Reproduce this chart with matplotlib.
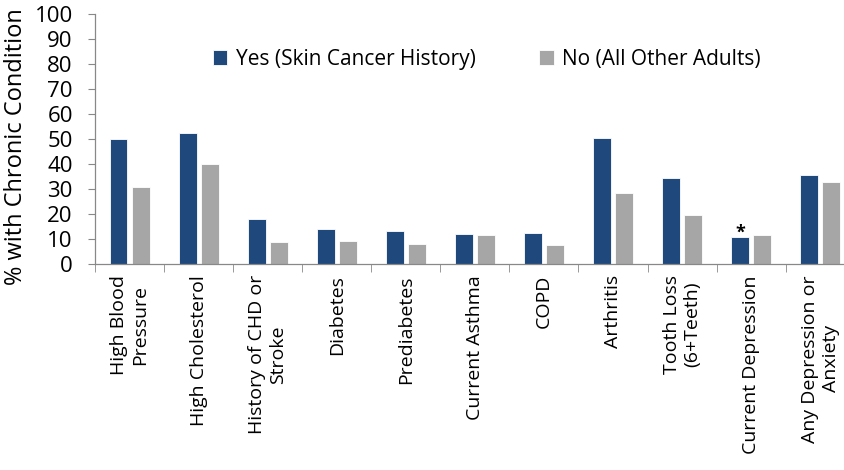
import matplotlib
matplotlib.use("Agg")
import matplotlib.pyplot as plt
import numpy as np

categories = ["High Blood\nPressure", "High Cholesterol", "History of CHD or\nStroke",
              "Diabetes", "Prediabetes", "Current Asthma", "COPD", "Arthritis",
              "Tooth Loss\n(6+Teeth)", "Current Depression", "Any Depression or\nAnxiety"]
yes_vals = [50.1, 52.3, 17.9, 14.0, 13.2, 11.9, 12.5, 50.4, 34.3, 10.7, 35.5]
no_vals = [30.9, 39.9, 8.9, 9.3, 8.1, 11.5, 7.5, 28.3, 19.6, 11.6, 32.8]
series_names = ["Yes (Skin Cancer History)", "No (All Other Adults)"]
yticks = list(range(0, 101, 10))
star_index = 9

plt.rcParams['font.family'] = ['Open Sans', 'DejaVu Sans']

fig = plt.figure(figsize=(8.44, 4.70), dpi=100)
ax = fig.add_axes([95/844, 206/470, 759.7/844, 250/470])

x = np.arange(len(categories))
w = 0.26
off = 0.16
ax.bar(x - off, yes_vals, w, color="#1F497D", edgecolor="white", linewidth=0.6,
       label=series_names[0])
ax.bar(x + off, no_vals, w, color="#A6A6A6", edgecolor="white", linewidth=0.6,
       label=series_names[1])

ax.annotate("*", (x[star_index] - off, yes_vals[star_index]), xytext=(0, -3),
            textcoords="offset points", ha="center", va="bottom", fontsize=13,
            fontweight="bold")

ax.set_xlim(-0.5, len(categories) - 0.5)
ax.set_ylim(0, 100)
ax.set_yticks(yticks)
ax.tick_params(axis="y", labelsize=16, length=5, color="#888888", pad=11)
ax.set_xticks(x)
ax.set_xticklabels(categories, rotation=90, fontsize=14, ha="center", va="top",
                   multialignment="center")
ax.tick_params(axis="x", length=0, pad=8)
ax.set_xticks(np.arange(-0.5, len(categories), 1), minor=True)
ax.tick_params(axis="x", which="minor", length=6, color="#888888")

for s in ["top", "right"]:
    ax.spines[s].set_visible(False)
for s in ["left", "bottom"]:
    ax.spines[s].set_color("#888888")
    ax.spines[s].set_linewidth(0.9)

ax.set_ylabel("% with Chronic Condition", fontsize=17)
ax.yaxis.set_label_coords(-67/759.7, 0.468)

ax.legend(loc="upper left", bbox_to_anchor=(99/759.7, 0.935), ncol=2, frameon=False,
          fontsize=15, handlelength=0.7, handleheight=0.75, handletextpad=0.4,
          columnspacing=3.05)

fig.savefig("out.png", dpi=100)
